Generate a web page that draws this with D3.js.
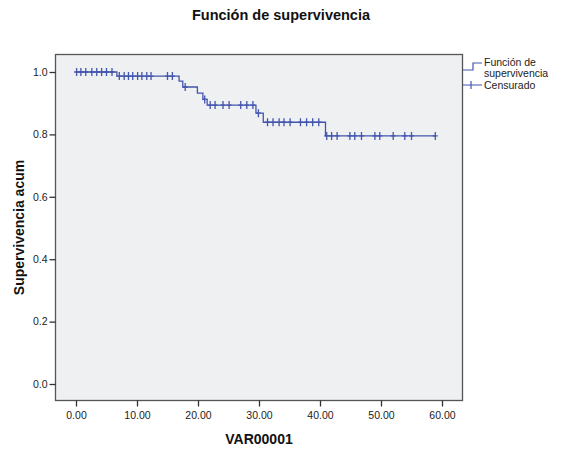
<!DOCTYPE html>
<html>
<head>
<meta charset="utf-8">
<script src="https://cdn.jsdelivr.net/npm/d3@7"></script>
<style>
  body { margin: 0; background: #fff; }
  svg text { font-family: 'Liberation Sans', Arial, sans-serif; }
</style>
</head>
<body>
<div id="chart"></div>
<script>
'use strict'

const WIDTH = 562
const HEIGHT = 451
const lineColor = '#4356ad'

// step points of the survival curve (time, cumulative survival)
const stepTimes = [0, 6.7, 16.9, 17.5, 19.9, 20.8, 21.5, 29.5, 30.7, 40.9]
const stepSurvival = [1.0, 0.987, 0.971, 0.952, 0.932, 0.912, 0.894, 0.868, 0.839, 0.795]
// censored observations
const censorTimes = [
  0.1, 0.8, 1.6, 2.6, 3.4, 4.2, 5.0, 5.9,
  7.1, 7.9, 8.6, 9.3, 10.1, 10.8, 11.6, 12.3, 15.0, 15.8,
  17.9, 21.1,
  22.0, 22.8, 24.1, 25.1, 27.0, 28.0, 29.0,
  29.9,
  31.4, 32.3, 33.3, 34.1, 35.1, 36.8, 37.8, 38.8, 39.8,
  41.1, 41.9, 42.8, 44.9, 45.7, 46.8, 49.0, 49.8, 52.0, 53.9, 55.0, 58.9
]
const xTicks = [0, 10, 20, 30, 40, 50, 60]
const yTicks = [0, 0.2, 0.4, 0.6, 0.8, 1.0]

const frame = { left: 55.5, right: 462.5, top: 54.5, bottom: 400.5 }

const svg = d3.select('#chart')
  .append('svg')
  .attr('width', WIDTH)
  .attr('height', HEIGHT)

// x: 0 -> 76px, 60 -> 442px ; y: 1 -> 72px, 0 -> 384px
const x = d3.scaleLinear().domain([0, 60]).range([76, 442])
const y = d3.scaleLinear().domain([0, 1]).range([384, 72])

function survivalAt (t) {
  const i = d3.bisectRight(stepTimes, t) - 1
  return stepSurvival[Math.max(0, i)]
}

// title
svg.append('text')
  .attr('x', WIDTH / 2)
  .attr('y', 20)
  .attr('text-anchor', 'middle')
  .style('font-size', '14.5px')
  .style('font-weight', 'bold')
  .attr('fill', '#111')
  .text('Función de supervivencia')

// plot background + frame
svg.append('rect')
  .attr('x', frame.left)
  .attr('y', frame.top)
  .attr('width', frame.right - frame.left)
  .attr('height', frame.bottom - frame.top)
  .attr('fill', '#eff0f2')
  .attr('stroke', '#555')
  .attr('stroke-width', 1.3)

// x axis
const xAxis = svg.append('g')
  .attr('transform', `translate(0, ${frame.bottom})`)
  .call(d3.axisBottom(x).tickValues(xTicks).tickFormat(d3.format('.2f')).tickSize(6).tickSizeOuter(0))
xAxis.select('.domain').remove()
xAxis.selectAll('line').attr('stroke', '#333').attr('stroke-width', 1.3)
xAxis.selectAll('text')
  .attr('dy', '0.9em')
  .style('font-size', '10.5px')
  .style('font-family', "'Liberation Sans', Arial, sans-serif")
  .attr('fill', '#222')

// y axis
const yAxis = svg.append('g')
  .attr('transform', `translate(${frame.left}, 0)`)
  .call(d3.axisLeft(y).tickValues(yTicks).tickFormat(d3.format('.1f')).tickSize(6).tickSizeOuter(0))
yAxis.select('.domain').remove()
yAxis.selectAll('line').attr('stroke', '#333').attr('stroke-width', 1.3)
yAxis.selectAll('text')
  .attr('x', -8)
  .style('font-size', '10.5px')
  .style('font-family', "'Liberation Sans', Arial, sans-serif")
  .attr('fill', '#222')

// axis titles
svg.append('text')
  .attr('x', (frame.left + frame.right) / 2)
  .attr('y', 444)
  .attr('text-anchor', 'middle')
  .style('font-size', '14px')
  .style('font-weight', 'bold')
  .attr('fill', '#111')
  .text('VAR00001')

svg.append('text')
  .attr('transform', `translate(24, ${(frame.top + frame.bottom) / 2}) rotate(-90)`)
  .attr('text-anchor', 'middle')
  .style('font-size', '14px')
  .style('font-weight', 'bold')
  .attr('fill', '#111')
  .text('Supervivencia acum')

// survival step curve
const lastTime = d3.max(censorTimes)
const curvePoints = stepTimes.map((t, i) => [t, stepSurvival[i]])
curvePoints.push([lastTime, stepSurvival[stepSurvival.length - 1]])

const line = d3.line()
  .x(d => x(d[0]))
  .y(d => y(d[1]))
  .curve(d3.curveStepAfter)

svg.append('path')
  .datum(curvePoints)
  .attr('d', line)
  .attr('fill', 'none')
  .attr('stroke', lineColor)
  .attr('stroke-width', 1.3)

// censored marks
svg.append('g')
  .selectAll('path')
  .data(censorTimes)
  .enter()
  .append('path')
  .attr('d', t => {
    const cx = x(t)
    const cy = y(survivalAt(t))
    return `M${cx},${cy - 4}V${cy + 4}M${cx - 2.5},${cy}H${cx + 2.5}`
  })
  .attr('stroke', lineColor)
  .attr('stroke-width', 1.3)
  .attr('fill', 'none')

// legend
const legend = svg.append('g')
legend.append('path')
  .attr('d', `M${frame.right},70H473V63H482`)
  .attr('fill', 'none')
  .attr('stroke', lineColor)
  .attr('stroke-width', 1.2)
legend.append('path')
  .attr('d', `M${frame.right},85H482M471,81V89`)
  .attr('fill', 'none')
  .attr('stroke', lineColor)
  .attr('stroke-width', 1.2)

const legendText = [
  { label: 'Función de', y: 66 },
  { label: 'supervivencia', y: 77 },
  { label: 'Censurado', y: 89 }
]
legend.selectAll('text')
  .data(legendText)
  .enter()
  .append('text')
  .attr('x', 484)
  .attr('y', d => d.y)
  .style('font-size', '10.5px')
  .attr('fill', '#222')
  .text(d => d.label)
</script>
</body>
</html>
